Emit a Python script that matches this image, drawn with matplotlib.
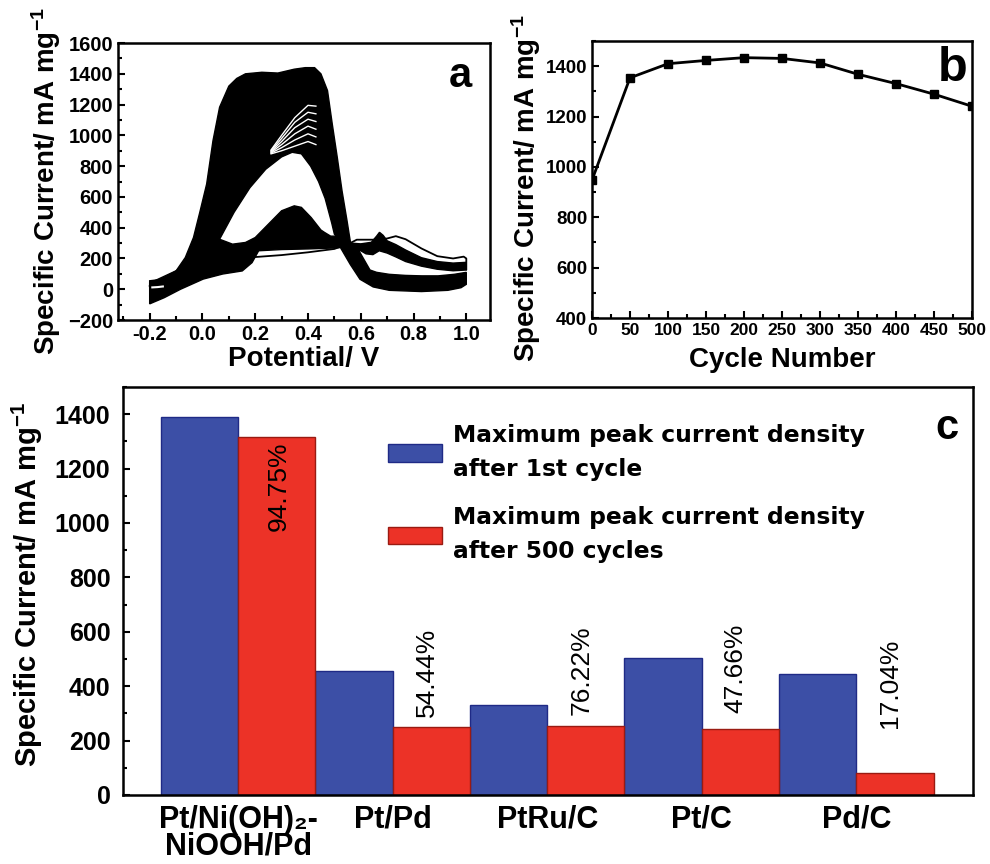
import matplotlib
matplotlib.use('Agg')
import matplotlib.pyplot as plt
from matplotlib.ticker import MultipleLocator
from matplotlib.font_manager import FontProperties
import numpy as np

plt.rcParams['font.family'] = ['Liberation Sans', 'DejaVu Sans']
plt.rcParams['font.weight'] = 'bold'
plt.rcParams['axes.linewidth'] = 1.8
plt.rcParams['mathtext.fontset'] = 'custom'
plt.rcParams['mathtext.rm'] = 'Liberation Sans:bold'
plt.rcParams['mathtext.it'] = 'Liberation Sans:bold'
plt.rcParams['mathtext.bf'] = 'Liberation Sans:bold'

# ---- panel a : CV cycles (outlines) ----
# upper envelope of the forward scans
fwd_top_v = [-0.2, -0.15, -0.1, -0.065, -0.034, -0.01, 0.016, 0.04, 0.065, 0.1, 0.13, 0.163, 0.225,
             0.286, 0.348, 0.39, 0.425, 0.449, 0.474, 0.492, 0.511, 0.529, 0.548, 0.56, 0.572, 0.585]
fwd_top_i = [55, 65, 119, 206, 336, 500, 684, 966, 1183, 1320, 1370, 1400, 1410,
             1405, 1430, 1440, 1440, 1400, 1291, 1074, 857, 640, 445, 315, 230, 180]
# lowest forward scan (top of the white hole)
fwd_low_v = [-0.2, -0.1, 0.0, 0.065, 0.12, 0.18, 0.24, 0.30, 0.34, 0.375, 0.41, 0.44, 0.465, 0.49,
             0.5, 0.53, 0.56, 0.585]
fwd_low_i = [20, 60, 150, 325, 500, 660, 780, 860, 890, 880, 800, 700, 590, 430,
             358, 300, 240, 180]
# forward tails after the main peak
tail_top_v = [0.56, 0.6, 0.64, 0.66, 0.671, 0.685, 0.70, 0.733, 0.77, 0.83, 0.89, 0.95, 1.0]
tail_top_i = [300, 295, 305, 345, 370, 350, 315, 290, 255, 205, 180, 170, 175]
tail_low_v = [1.0, 0.95, 0.89, 0.83, 0.77, 0.733, 0.70, 0.67, 0.646, 0.62, 0.6, 0.56]
tail_low_i = [125, 120, 130, 150, 180, 210, 235, 250, 225, 230, 250, 270]
# backward scans, upper and lower envelope
bwd_top_v = [1.0, 0.954, 0.893, 0.831, 0.769, 0.708, 0.66, 0.635, 0.61, 0.59, 0.57, 0.55, 0.52,
             0.5, 0.486, 0.462, 0.449, 0.412, 0.375, 0.348, 0.3, 0.25, 0.2, 0.163, 0.114, 0.065,
             0.0, -0.1, -0.2]
bwd_top_i = [110, 97, 87, 87, 90, 97, 110, 125, 200, 260, 290, 320, 340,
             345, 345, 370, 385, 466, 532, 542, 510, 423, 336, 304, 293, 325,
             230, 120, 40]
bwd_low_v = [-0.2, -0.145, -0.083, 0.003, 0.077, 0.151, 0.188, 0.213, 0.3, 0.4, 0.5, 0.523,
             0.56, 0.597, 0.647, 0.708, 0.83, 0.93, 0.98, 1.0]
bwd_low_i = [-95, -55, 0, 66, 99, 119, 173, 250, 258, 262, 268, 271,
             162, 65, 15, -7, -15, -7, 10, 32]
# first cycle forward scan (thin line)
first_v = [-0.2, -0.1, 0.0, 0.1, 0.19, 0.3, 0.4, 0.5, 0.56, 0.585, 0.62, 0.665, 0.70, 0.733,
           0.77, 0.83, 0.89, 0.95, 0.99, 1.0, 1.0]
first_i = [20, 50, 100, 150, 208, 222, 240, 262, 300, 322, 322, 322, 330, 345,
           325, 265, 215, 200, 212, 200, 130]
# gaps between early forward cycles near the peak
streak_v = [0.26, 0.30, 0.35, 0.40, 0.43]
streak_i = [[880, 900, 930, 960, 940],
            [885, 920, 970, 1010, 990],
            [890, 940, 1010, 1060, 1040],
            [895, 960, 1050, 1105, 1090],
            [900, 980, 1085, 1150, 1140],
            [905, 1000, 1115, 1195, 1190]]
# small gap at the start of the scans
start_gap_v = [-0.19, -0.17, -0.15]
start_gap_i = [12, 14, 18]

# ---- panel b ----
cycle_no = [0, 50, 100, 150, 200, 250, 300, 350, 400, 450, 500]
cycle_current = [948, 1354, 1410, 1423, 1434, 1431, 1413, 1368, 1331, 1289, 1241]

# ---- panel c ----
catalysts = ['Pt/Ni(OH)\u2082-\nNiOOH/Pd', 'Pt/Pd', 'PtRu/C', 'Pt/C', 'Pd/C']
first_cycle = [1390, 457, 332, 505, 446]
after_500 = [1315, 251, 255, 243, 81]
retention = ['94.75%', '54.44%', '76.22%', '47.66%', '17.04%']

fig = plt.figure(figsize=(9.9, 8.64), dpi=100)
ylab = 'Specific Current/ mA mg$^{-1}$'

# ================= a =================
ax1 = fig.add_axes([0.1192, 0.6296, 0.3758, 0.3206])
ax1.fill(fwd_top_v + fwd_low_v[::-1], fwd_top_i + fwd_low_i[::-1], color='black', lw=1)
ax1.fill(bwd_low_v + bwd_top_v, bwd_low_i + bwd_top_i, color='black', lw=1)
ax1.fill(tail_top_v + tail_low_v, tail_top_i + tail_low_i, color='black', lw=1)
ax1.plot(first_v, first_i, color='black', lw=1.3)
for s in streak_i:
    ax1.plot(streak_v, s, color='white', lw=1.0)
ax1.plot(start_gap_v, start_gap_i, color='white', lw=1.5)
ax1.set_xlim(-0.32, 1.09)
ax1.set_ylim(-200, 1600)
ax1.xaxis.set_major_locator(MultipleLocator(0.2))
ax1.xaxis.set_minor_locator(MultipleLocator(0.1))
ax1.yaxis.set_major_locator(MultipleLocator(200))
ax1.yaxis.set_minor_locator(MultipleLocator(100))
ax1.xaxis.set_major_formatter(matplotlib.ticker.FormatStrFormatter('%.1f'))
ax1.tick_params(which='both', direction='in', top=False, right=False, width=1.5)
ax1.tick_params(which='major', length=5, labelsize=14.5)
ax1.tick_params(which='minor', length=3)
ax1.set_xlabel('Potential/ V', fontsize=20, fontweight='bold')
ax1.set_ylabel(ylab, fontsize=20, fontweight='bold')
ax1.yaxis.set_label_coords(-0.148, 0.5)
ax1.xaxis.set_label_coords(0.5, -0.095)
ax1.text(0.919, 0.88, 'a', transform=ax1.transAxes, fontsize=30, fontweight='bold',
         ha='center', va='center')

# ================= b =================
ax2 = fig.add_axes([0.598, 0.6319, 0.3838, 0.3206])
ax2.plot(cycle_no, cycle_current, color='black', lw=2, marker='s', markersize=5.5)
ax2.set_xlim(0, 500)
ax2.set_ylim(400, 1500)
ax2.xaxis.set_major_locator(MultipleLocator(50))
ax2.xaxis.set_minor_locator(MultipleLocator(25))
ax2.yaxis.set_major_locator(MultipleLocator(200))
ax2.yaxis.set_minor_locator(MultipleLocator(100))
ax2.tick_params(which='both', direction='in', top=False, right=False, width=1.5)
ax2.tick_params(which='major', length=5)
ax2.tick_params(which='minor', length=3)
ax2.tick_params(axis='x', labelsize=12.5)
ax2.tick_params(axis='y', labelsize=13.5)
ax2.set_xlabel('Cycle Number', fontsize=20, fontweight='bold')
ax2.set_ylabel(ylab, fontsize=20, fontweight='bold')
ax2.yaxis.set_label_coords(-0.129, 0.47)
ax2.xaxis.set_label_coords(0.5, -0.105)
ax2.text(0.95, 0.9, 'b', transform=ax2.transAxes, fontsize=35, fontweight='bold',
         ha='center', va='center')

# ================= c =================
ax3 = fig.add_axes([0.1242, 0.0799, 0.8586, 0.4722])
x = np.arange(len(catalysts))
b1 = ax3.bar(x - 0.25, first_cycle, width=0.5, color='#3c4fa6', edgecolor='#1f2a86', lw=1,
             label='Maximum peak current density\nafter 1st cycle')
b2 = ax3.bar(x + 0.25, after_500, width=0.5, color='#ec3227', edgecolor='#9a1b12', lw=1,
             label='Maximum peak current density\nafter 500 cycles')
ax3.text(x[0] + 0.26, 1299, retention[0], rotation=90, ha='center', va='top',
         fontsize=19, fontweight='normal')
pct_y = [288, 295, 302, 247]
for i, t in enumerate(retention[1:]):
    ax3.text(x[i + 1] + 0.22, pct_y[i], t, rotation=90, ha='center', va='bottom',
             fontsize=19, fontweight='normal')
ax3.set_xlim(-0.745, 4.755)
ax3.set_ylim(0, 1500)
ax3.set_xticks(x)
ax3.set_xticklabels(catalysts, fontsize=22, fontweight='bold', linespacing=0.86)
ax3.yaxis.set_major_locator(MultipleLocator(200))
ax3.yaxis.set_minor_locator(MultipleLocator(100))
ax3.tick_params(axis='y', which='both', direction='in', right=False, width=1.5, labelsize=18, pad=9)
ax3.tick_params(axis='y', which='major', length=5)
ax3.tick_params(axis='y', which='minor', length=3)
ax3.tick_params(axis='x', length=0, pad=7)
ax3.set_ylabel(ylab, fontsize=21, fontweight='bold')
ax3.yaxis.set_label_coords(-0.092, 0.515)
leg = ax3.legend(loc='upper left', bbox_to_anchor=(0.312, 0.91), frameon=False,
                 prop=FontProperties(family='DejaVu Sans', weight='bold', size=16.8),
                 handlelength=2.3, handleheight=0.8, handletextpad=0.5,
                 borderpad=0, borderaxespad=0, labelspacing=1.1)
for t in leg.get_texts():
    t.set_linespacing(1.6)
ax3.text(0.969, 0.9, 'c', transform=ax3.transAxes, fontsize=30, fontweight='bold',
         ha='center', va='center')

fig.savefig('out.png', dpi=100)
